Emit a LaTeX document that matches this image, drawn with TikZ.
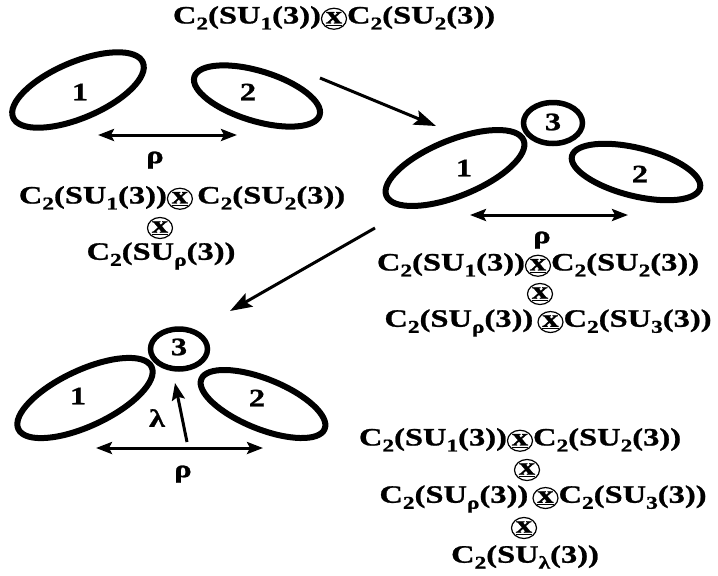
\documentclass[tikz,border=0pt]{standalone}
\usepackage{fontspec}
\usepackage{tikz}
\usetikzlibrary{arrows.meta,shapes.geometric}
\newfontfamily\figfont{Liberation Serif}[FakeStretch=1.3,FakeBold=1]
\newcommand{\lo}[1]{\raisebox{-6pt}{\fontsize{18}{18}\selectfont #1}}
\newcommand{\Cas}[1]{C\lo{2}(SU\lo{#1}(3))}
\newcommand{\ox}{\tikz[baseline=(oxin.base)]\node[draw,ellipse,line width=1.2pt,inner sep=0pt,minimum width=25pt,minimum height=21pt](oxin){\underline{x}};}

\begin{document}
\begin{tikzpicture}[
  x=1pt,y=-1pt,
  font=\figfont\bfseries\fontsize{25}{28}\selectfont,
  blob/.style={draw,ellipse,line width=6pt,inner sep=0pt},
  ring/.style={draw,ellipse,line width=5.5pt,inner sep=0pt},
  num/.style={inner sep=0pt},
  txt/.style={inner sep=0pt,anchor=center},
  flow/.style={-{Stealth[length=22pt,width=15pt,inset=4pt]},line width=3pt},
  dist/.style={{Stealth[length=16pt,width=12pt,inset=3pt]}-{Stealth[length=16pt,width=12pt,inset=3pt]},line width=3pt},
  ]
  \useasboundingbox (0,0) rectangle (718,576);
  \node[txt] (t0) at (334,18) {\Cas{1}\ox\Cas{2}};
  % two clusters
  \node[blob,minimum width=141pt,minimum height=56pt,rotate=23] (a1) at (78,90) {};
  \node[blob,minimum width=131pt,minimum height=50pt,rotate=-17] (a2) at (257,96) {};
  \node[num] (a1l) at (80,92) {1};
  \node[num] (a2l) at (248,92) {2};
  \coordinate (ar0) at (98,135);
  \coordinate (ar1) at (237,135);
  \draw[dist] (ar0) -- (ar1);
  \node[num] (arho) at (155,160) {ρ};
  \node[txt] (at1) at (182,198) {\Cas{1}\ox\,\Cas{2}};
  \node[txt] (at2) at (160,228) {\ox};
  \node[txt] (at3) at (161,256) {\Cas{ρ}};
  % three clusters
  \node[ring,minimum width=59pt,minimum height=41pt] (b3) at (553,123) {};
  \node[blob,minimum width=148pt,minimum height=56pt,rotate=22] (b1) at (455,168) {};
  \node[blob,minimum width=132pt,minimum height=48pt,rotate=-14] (b2) at (636,172) {};
  \node[num] (b3l) at (553,122) {3};
  \node[num] (b1l) at (464,168) {1};
  \node[num] (b2l) at (640,174) {2};
  \coordinate (br0) at (470,215);
  \coordinate (br1) at (628,215);
  \draw[dist] (br0) -- (br1);
  \node[num] (brho) at (542,240) {ρ};
  \node[txt] (bt1) at (538,265) {\Cas{1}\ox\Cas{2}};
  \node[txt] (bt2) at (540,294) {\ox};
  \node[txt] (bt3) at (548,323) {\Cas{ρ}\,\ox\Cas{3}};
  % four clusters
  \node[ring,minimum width=57pt,minimum height=40pt] (c3) at (179,349) {};
  \node[blob,minimum width=147pt,minimum height=56pt,rotate=25] (c1) at (85,398) {};
  \node[blob,minimum width=133pt,minimum height=50pt,rotate=-22] (c2) at (263,404) {};
  \node[num] (c3l) at (179,347) {3};
  \node[num] (c1l) at (78,396) {1};
  \node[num] (c2l) at (257,398) {2};
  \coordinate (cl0) at (187,442);
  \coordinate (cl1) at (175,383);
  \draw[flow,-{Stealth[length=17pt,width=13pt,inset=3pt]}] (cl0) -- (cl1);
  \node[num] (clam) at (157,418) {λ};
  \coordinate (cr0) at (96,448);
  \coordinate (cr1) at (263,448);
  \draw[dist] (cr0) -- (cr1);
  \node[num] (crho) at (183,474) {ρ};
  \node[txt] (ct1) at (520,440) {\Cas{1}\ox\Cas{2}};
  \node[txt] (ct2) at (527,470) {\ox};
  \node[txt] (ct3) at (543,499) {\Cas{ρ}\,\ox\Cas{3}};
  \node[txt] (ct4) at (524,528) {\ox};
  \node[txt] (ct5) at (525,557) {\Cas{λ}};
  % stages
  \coordinate (s0) at (320,78);
  \coordinate (s1) at (436,126);
  \coordinate (s2) at (375,228);
  \coordinate (s3) at (230,311);
  \draw[flow] (s0) -- (s1);
  \draw[flow] (s2) -- (s3);
\end{tikzpicture}
\end{document}
